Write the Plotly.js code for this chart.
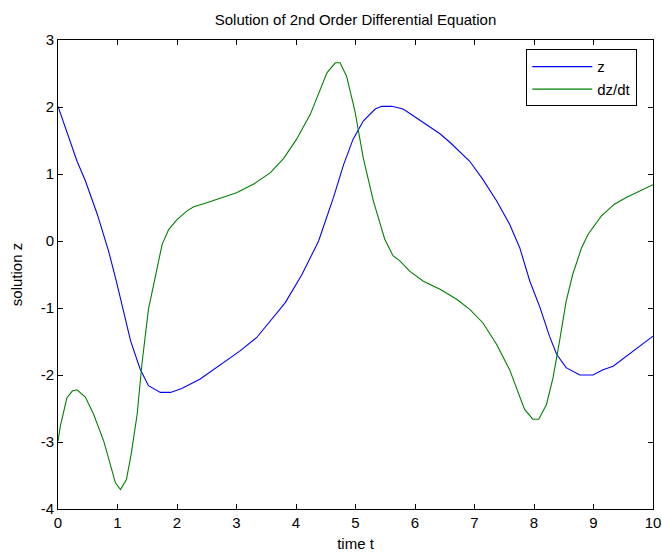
<!DOCTYPE html>
<html>
<head>
<meta charset="utf-8">
<script src="https://cdn.plot.ly/plotly-3.0.1.min.js"></script>
<style>html,body{margin:0;padding:0;background:#fff;}#chart{width:662px;height:557px;}</style>
</head>
<body>
<div id="chart"></div>
<script>
// Solution z(t)
var tZ = [0, 0.32, 0.46, 0.66, 0.85, 0.98, 1.22, 1.38, 1.52, 1.72, 1.89, 2.08, 2.39, 2.89, 3.06, 3.34, 3.82, 4.10, 4.24, 4.38, 4.63, 4.80, 4.96, 5.13, 5.33, 5.44, 5.61, 5.80, 5.97, 6.19, 6.42, 6.59, 6.92, 7.14, 7.37, 7.59, 7.76, 7.93, 8.10, 8.26, 8.38, 8.54, 8.77, 8.99, 9.16, 9.33, 9.55, 9.77, 10];
var zVals = [2.01, 1.19, 0.90, 0.40, -0.15, -0.60, -1.49, -1.91, -2.16, -2.26, -2.26, -2.20, -2.06, -1.75, -1.64, -1.44, -0.92, -0.50, -0.25, 0.0, 0.65, 1.14, 1.52, 1.79, 1.97, 2.01, 2.01, 1.97, 1.87, 1.74, 1.60, 1.47, 1.19, 0.92, 0.60, 0.25, -0.10, -0.60, -0.99, -1.42, -1.69, -1.89, -2.0, -2.0, -1.92, -1.87, -1.72, -1.57, -1.42];

// Derivative dz/dt
var tD = [0, 0.04, 0.15, 0.24, 0.32, 0.46, 0.60, 0.77, 0.965, 1.05, 1.15, 1.23, 1.33, 1.41, 1.52, 1.62, 1.75, 1.86, 2.0, 2.17, 2.28, 2.50, 2.78, 3.0, 3.29, 3.57, 3.79, 4.01, 4.24, 4.52, 4.66, 4.74, 4.85, 4.99, 5.13, 5.30, 5.49, 5.63, 5.75, 5.91, 6.14, 6.31, 6.42, 6.70, 6.92, 7.14, 7.37, 7.59, 7.84, 7.98, 8.08, 8.21, 8.32, 8.43, 8.54, 8.65, 8.80, 8.91, 9.13, 9.35, 9.55, 10];
var dzVals = [-2.99, -2.76, -2.34, -2.24, -2.22, -2.33, -2.59, -2.99, -3.61, -3.71, -3.56, -3.18, -2.59, -1.84, -1.02, -0.58, -0.05, 0.17, 0.32, 0.45, 0.51, 0.57, 0.65, 0.72, 0.85, 1.02, 1.23, 1.52, 1.89, 2.51, 2.66, 2.66, 2.46, 1.94, 1.24, 0.60, 0.03, -0.22, -0.30, -0.45, -0.60, -0.67, -0.72, -0.87, -1.02, -1.22, -1.54, -1.92, -2.51, -2.66, -2.66, -2.44, -2.04, -1.49, -0.90, -0.50, -0.10, 0.10, 0.37, 0.55, 0.65, 0.84];

var xTicks = [0, 1, 2, 3, 4, 5, 6, 7, 8, 9, 10];
var yTicks = [-4, -3, -2, -1, 0, 1, 2, 3];
var seriesNames = ['z', 'dz/dt'];
var titleText = 'Solution of 2nd Order Differential Equation';
var xTitle = 'time t';
var yTitle = 'solution z';

var FONT = 'Arial, "Liberation Sans", sans-serif';
var FS = 15;

var traces = [
  {x: tZ, y: zVals, name: seriesNames[0], type: 'scatter', mode: 'lines',
   line: {color: '#0000FF', width: 1.1}, legendgroup: 'a'},
  {x: tD, y: dzVals, name: seriesNames[1], type: 'scatter', mode: 'lines',
   line: {color: '#008000', width: 1.1}, legendgroup: 'b'}
];

var axisCommon = {
  showgrid: false, zeroline: false, automargin: false,
  showline: true, linecolor: '#000', linewidth: 1, mirror: 'ticks',
  ticks: 'inside', ticklen: 5, tickwidth: 1, tickcolor: '#000',
  tickfont: {family: FONT, size: FS, color: '#000'}
};

var layout = {
  width: 662, height: 557,
  margin: {l: 58, r: 9, t: 40, b: 48, pad: 0},
  paper_bgcolor: '#fff', plot_bgcolor: '#fff',
  font: {family: FONT, size: FS, color: '#000'},
  title: {text: titleText, font: {family: FONT, size: FS, color: '#000'},
          x: 0.537, xanchor: 'center', y: 0.964, yanchor: 'middle', yref: 'container'},
  xaxis: Object.assign({}, axisCommon, {
    range: [0, 10], tickvals: xTicks, ticktext: xTicks.map(String),
    title: {text: xTitle, font: {family: FONT, size: FS, color: '#000'}, standoff: 8}
  }),
  yaxis: Object.assign({}, axisCommon, {
    range: [-4, 3], tickvals: yTicks, ticktext: yTicks.map(String),
    title: {text: yTitle, font: {family: FONT, size: FS, color: '#000'}, standoff: 14}
  }),
  showlegend: true,
  legend: {
    x: 0.787, y: 0.98, xanchor: 'left', yanchor: 'top',
    bgcolor: '#fff', bordercolor: '#000', borderwidth: 1,
    font: {family: FONT, size: FS, color: '#000'},
    traceorder: 'grouped', tracegroupgap: 0, itemwidth: 60
  }
};

Plotly.newPlot('chart', traces, layout, {displayModeBar: false, staticPlot: true});
</script>
</body>
</html>
